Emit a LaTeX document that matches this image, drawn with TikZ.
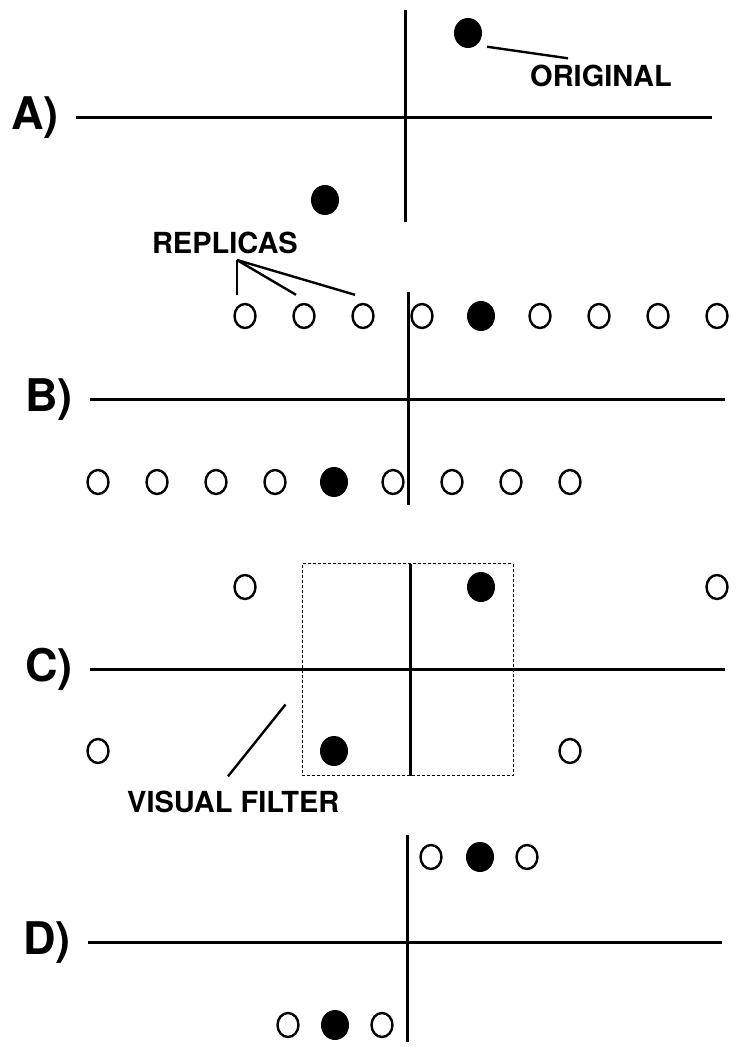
\documentclass[tikz,border=0pt]{standalone}
\usepackage{fontspec}
\setmainfont{TeX Gyre Heros}
\usetikzlibrary{shapes, positioning}

\begin{document}
\begin{tikzpicture}[x=1pt, y=-1pt,
					orig/.style={ellipse, fill=black, minimum width=28pt, minimum height=30pt, inner sep=0pt},
					repl/.style={ellipse, draw, line width=2.4pt, minimum width=21pt, minimum height=24pt, inner sep=0pt},
					tag/.style={font=\fontsize{29}{31}\selectfont\bfseries, inner sep=0pt},
					panel/.style={font=\fontsize{45}{48}\selectfont\bfseries, inner sep=0pt, anchor=base east},
					axis/.style={line width=3pt},
					leader/.style={line width=2.4pt},
					filterbox/.style={draw, densely dashed, line width=0.9pt, minimum width=211pt, minimum height=212pt, inner sep=0pt}]
				\useasboundingbox (0,0) rectangle (736,1047);

				% axes and panel letters
				\foreach \y/\xl/\xr/\xv/\yt/\yb/\name in {117/76/712/405/10/222/A, 399/90/725/408/292/505/B,
										669/90/725/410/564/776/C, 942/88/722/407/835/1042/D}
				{
					\draw[axis] (\xl,\y) -- (\xr,\y);
					\draw[axis] (\xv,\yt) -- (\xv,\yb);
					\node[panel] (lbl\name) at (\xl-17,\y+12) {\name)};
				}

				% A)
				\node[orig] (oA) at (468,33) {};
				\node[orig] (rA) at (325,200) {};
				\node[tag, anchor=base west] (original) at (530,86) {ORIGINAL};
				\draw[leader] ([shift={(9,3)}]oA.south east) -- ([shift={(38,-6)}]original.north west);

				% B)
				\foreach \k/\s in {0/repl, 1/repl, 2/repl, 3/repl, 4/orig, 5/repl, 6/repl, 7/repl, 8/repl}
				{
					\node[\s] (bt\k) at (245+59*\k,316) {};
					\node[\s] (bb\k) at (98+59*\k,482) {};
				}
				\node[tag, anchor=base east] (replicas) at (298,253) {REPLICAS};
				\coordinate (fork) at (237,260);
				\foreach \k in {0,1,2}
					\draw[leader] (fork) -- ([shift={(-8,-8)}]bt\k.north);

				% C)
				\node[filterbox] (filter) at (407.5,669.5) {};
				\node[repl] (cTl) at (245,587) {};
				\node[orig] (cTf) at (481,587) {};
				\node[repl] (cTr) at (717,587) {};
				\node[repl] (cBl) at (98,751) {};
				\node[orig] (cBf) at (334,751) {};
				\node[repl] (cBr) at (570,751) {};
				\node[tag, anchor=base west] (visual) at (127,812) {VISUAL FILTER};
				\draw[leader] ([shift={(101,-14)}]visual.north west) -- ([shift={(-16,35)}]filter.west);

				% D)
				\node[repl] (dTl) at (431,857) {};
				\node[orig] (dTf) at (480,857) {};
				\node[repl] (dTr) at (527,857) {};
				\node[repl] (dBl) at (288,1025) {};
				\node[orig] (dBf) at (335,1025) {};
				\node[repl] (dBr) at (382,1025) {};
			\end{tikzpicture}
\end{document}
